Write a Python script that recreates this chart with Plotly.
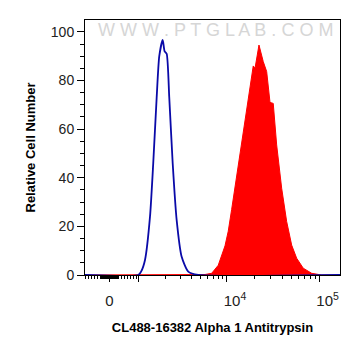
import plotly.graph_objects as go
import math

# Fluorescence channel positions in axis (decade) units and relative counts
blue_channel = [2.47, 3.045, 3.077, 3.118, 3.172, 3.207, 3.244, 3.272, 3.309, 3.330, 3.352,
                3.380, 3.417, 3.460, 3.514, 3.585, 3.693, 5.224]
blue_count = [0, 0, 1.5, 6.2, 24, 46, 73, 90, 96.7, 92, 91,
              73, 46, 22.6, 7.5, 1.4, 0, 0]

red_channel = [2.47, 3.690, 3.766, 3.838, 3.909, 3.982, 4.017, 4.054, 4.108, 4.162, 4.216,
               4.252, 4.287, 4.306, 4.341, 4.349, 4.395, 4.432, 4.468, 4.503, 4.540,
               4.594, 4.648, 4.702, 4.756, 4.827, 4.918, 5.026, 5.224]
red_count = [0, 0, 0.2, 0.7, 4, 12, 18, 27, 41, 55, 67,
             78, 86, 85, 93, 94.6, 87.8, 83.7, 71, 70.6, 53.5,
             35.7, 22, 12.3, 6.9, 2.8, 0.7, 0, 0]

x_tick_vals = [2.734, 3.053, 4.0, 5.0]
x_tick_text = ["0", " ", "\u00a0\u00a0\u00a0\u00a010<sup>4</sup>", "\u00a0\u00a0\u00a0\u00a010<sup>5</sup>"]
y_tick_vals = [0, 20, 40, 60, 80, 100]

# minor tick positions (axis units)
zero_pos, thousand_pos = 2.734, 3.053
lin_unit = (thousand_pos - zero_pos) / 1000.0
minor_x = [zero_pos + v * lin_unit for v in range(-800, 1000, 100) if v != 0]
minor_x += [zero_pos + v * lin_unit for v in range(-300, 320, 25) if v != 0]
minor_x += [thousand_pos + math.log10(k) * (4 - thousand_pos) for k in range(2, 10)]
minor_x += [4 + math.log10(k) for k in range(2, 10)]

fig = go.Figure()
fig.add_trace(go.Scatter(x=red_channel, y=red_count, mode="lines", fill="tozeroy",
                         fillcolor="#ff0000", line=dict(color="#ff0000", width=1),
                         hoverinfo="skip", showlegend=False))
fig.add_trace(go.Scatter(x=blue_channel, y=blue_count, mode="lines",
                         line=dict(color="#0a0aa8", width=1.8, shape="spline", smoothing=0.6),
                         hoverinfo="skip", showlegend=False))

fig.add_annotation(text="W W W . P T G L A B . C O M", x=0.51, y=0.96, xref="paper", yref="paper",
                   showarrow=False, xanchor="center", yanchor="middle",
                   font=dict(family="Liberation Sans", size=18, color="#d6d6d6"))

fig.update_layout(
    width=361, height=356,
    margin=dict(l=77, r=29, t=12, b=89),
    plot_bgcolor="white", paper_bgcolor="white",
    font=dict(family="Liberation Sans", color="#222222", size=14),
    xaxis=dict(range=[2.47, 5.224], showline=True, linecolor="black", linewidth=1, mirror=True,
               automargin=False,
               showgrid=False, zeroline=False, ticks="outside", ticklen=6, tickcolor="black",
               tickmode="array", tickvals=x_tick_vals, ticktext=x_tick_text,
               tickfont=dict(size=15, color="#222222"), ticklabelstandoff=6,
               minor=dict(tickmode="array", tickvals=minor_x, ticks="outside", ticklen=3,
                          tickcolor="black", showgrid=False),
               title=dict(text="<b>CL488-16382 Alpha 1 Antitrypsin</b>", font=dict(size=13, color="black"),
                          standoff=14)),
    yaxis=dict(range=[0, 104.9], showline=True, linecolor="black", linewidth=1, mirror=True,
               automargin=False,
               showgrid=False, zeroline=False, ticks="outside", ticklen=7, tickcolor="black",
               tickmode="array", tickvals=y_tick_vals,
               tickfont=dict(size=14, color="#222222"),
               minor=dict(dtick=5, ticks="outside", ticklen=4, tickcolor="black", showgrid=False),
               title=dict(text="<b>Relative Cell Number</b>", font=dict(size=13, color="black"),
                          standoff=12)),
)

fig.write_html("out.html")
